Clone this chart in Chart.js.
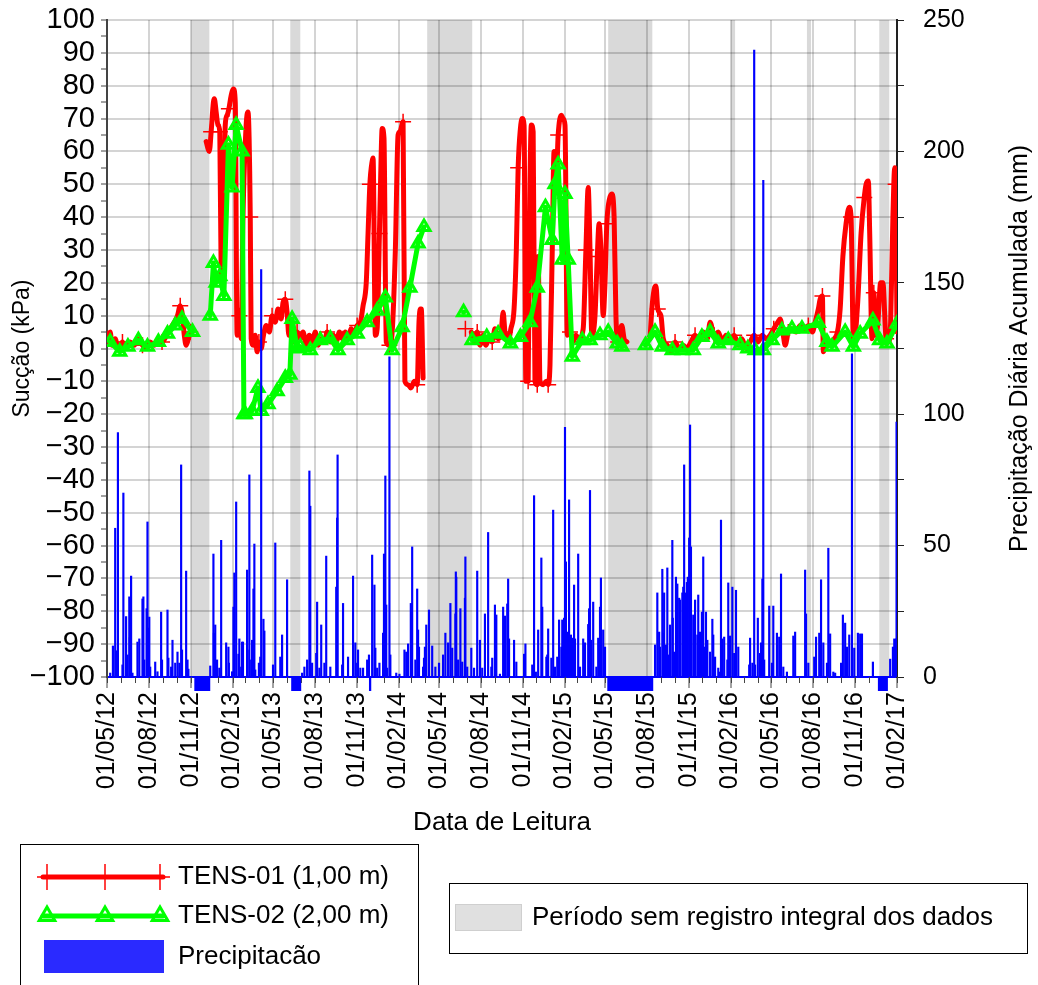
<!DOCTYPE html>
<html>
<head>
<meta charset="utf-8">
<script src="https://cdn.jsdelivr.net/npm/chart.js@4.4.1/dist/chart.umd.min.js"></script>
<style>
  html, body { margin: 0; padding: 0; background: #fff; }
  #wrap { width: 1038px; height: 985px; position: relative; }
</style>
</head>
<body>
<div id="wrap"><canvas id="grafico" width="1038" height="985"></canvas></div>
<script>
// ---------------------------------------------------------------
// Monitoramento de sucção (tensiômetros) e precipitação diária
// Datas no formato DD/MM/AA; null interrompe a linha da série
// ---------------------------------------------------------------

// TENS-01 (1,00 m) - sucção em kPa
const tens01 = [
  ['03/05/12',3],['08/05/12',5],['12/05/12',1],['19/05/12',3],['25/05/12',0],['04/06/12',2],['12/06/12',0],
  ['21/06/12',2],['30/06/12',1],['09/07/12',3],['18/07/12',1],['27/07/12',0],['04/08/12',2],['13/08/12',1],
  ['22/08/12',3],['30/08/12',2],['09/09/12',4],['17/09/12',6],['26/09/12',8],['03/10/12',10],['09/10/12',13],
  ['13/10/12',11],['18/10/12',4],['22/10/12',1],['27/10/12',3],['31/10/12',5],['05/11/12',6],
  null,
  ['05/12/12',63],['12/12/12',60],['16/12/12',66],['21/12/12',75],['23/12/12',76],['27/12/12',72],['31/12/12',68],
  ['04/01/13',66],['07/01/13',23],['11/01/13',20],['16/01/13',68],['20/01/13',71],['24/01/13',73],['29/01/13',77],
  ['03/02/13',79],['07/02/13',75],['11/02/13',4],['16/02/13',10],['20/02/13',3],['24/02/13',40],['03/03/13',68],
  ['07/03/13',72],['12/03/13',40],['14/03/13',3],['19/03/13',1],['23/03/13',4],['27/03/13',-1],['31/03/13',2],
  ['05/04/13',0],['10/04/13',4],['16/04/13',7],['23/04/13',5],['29/04/13',10],['06/05/13',8],['12/05/13',12],
  ['19/05/13',9],['23/05/13',14],['28/05/13',15],['01/06/13',11],['05/06/13',4],['10/06/13',6],['16/06/13',2],
  ['23/06/13',5],['30/06/13',3],['06/07/13',5],['13/07/13',1],['20/07/13',4],['26/07/13',2],['02/08/13',5],
  ['08/08/13',1],['15/08/13',3],['22/08/13',2],['28/08/13',5],['04/09/13',2],['11/09/13',4],['17/09/13',2],
  ['24/09/13',5],['30/09/13',3],['07/10/13',5],['13/10/13',3],['20/10/13',6],['27/10/13',4],['02/11/13',7],
  ['09/11/13',8],['15/11/13',13],['22/11/13',20],['26/11/13',35],['30/11/13',50],['05/12/13',57],['07/12/13',58],
  ['12/12/13',4],['16/12/13',6],['21/12/13',35],['25/12/13',60],['27/12/13',67],['31/12/13',64],['05/01/14',2],
  ['12/01/14',1],['18/01/14',5],['25/01/14',30],['31/01/14',65],['04/02/14',66],['11/02/14',69],['15/02/14',-10],
  ['22/02/14',-11],['28/02/14',-12],['08/03/14',-10],['14/03/14',-11],['18/03/14',8],['21/03/14',12],['23/03/14',12],
  ['27/03/14',-9],
  null, ['28/06/14',6], null,
  ['11/07/14',5],['17/07/14',2],['24/07/14',5],['30/07/14',1],['06/08/14',4],['12/08/14',1],['19/08/14',3],
  ['26/08/14',2],['01/09/14',6],['08/09/14',3],['14/09/14',4],['19/09/14',11],['23/09/14',5],['30/09/14',2],
  ['06/10/14',6],['13/10/14',12],['18/10/14',30],['22/10/14',55],['27/10/14',67],['31/10/14',70],['04/11/14',68],
  ['08/11/14',-10],['13/11/14',-10],['17/11/14',50],['20/11/14',68],['24/11/14',66],['28/11/14',-10],['03/12/14',-11],
  ['05/12/14',28],['09/12/14',-10],['16/12/14',-11],['23/12/14',-10],['27/12/14',-11],['31/12/14',-5],['05/01/15',30],
  ['09/01/15',60],['14/01/15',52],['18/01/15',65],['25/01/15',71],['29/01/15',70],['02/02/15',68],['07/02/15',4],
  ['13/02/15',5],['20/02/15',2],['26/02/15',4],['05/03/15',3],['14/03/15',6],['20/03/15',30],['25/03/15',49],
  ['29/03/15',30],['02/04/15',4],['09/04/15',10],['14/04/15',28],['18/04/15',38],['22/04/15',30],['27/04/15',10],
  ['01/05/15',20],['05/05/15',38],['10/05/15',45],['16/05/15',47],['21/05/15',40],['25/05/15',10],['30/05/15',2],
  ['03/06/15',5],['07/06/15',7],['12/06/15',3],['18/06/15',2],
  null,
  ['08/08/15',3],['12/08/15',12],['17/08/15',18],['21/08/15',19],['25/08/15',12],['01/09/15',10],['06/09/15',3],
  ['15/09/15',1],['24/09/15',-1],['02/10/15',2],['11/10/15',0],['20/10/15',1],['28/10/15',0],['06/11/15',2],
  ['15/11/15',4],['24/11/15',3],['03/12/15',5],['12/12/15',3],['18/12/15',8],['27/12/15',4],['05/01/16',5],
  ['14/01/16',2],['22/01/16',4],['31/01/16',2],['09/02/16',4],['18/02/16',1],['26/02/16',3],['06/03/16',0],
  ['15/03/16',2],['24/03/16',4],['01/04/16',2],['11/04/16',4],['19/04/16',3],['28/04/16',4],['06/05/16',6],
  ['15/05/16',8],['20/05/16',9],['27/05/16',4],['31/05/16',1],['07/06/16',5],['15/06/16',6],['24/06/16',5],
  ['03/07/16',7],['12/07/16',6],['21/07/16',7],['30/07/16',5],['05/08/16',8],['12/08/16',12],['16/08/16',15],
  ['21/08/16',16],['23/08/16',-1],['29/08/16',2],['07/09/16',1],['16/09/16',3],['23/09/16',5],['29/09/16',12],
  ['05/10/16',28],['12/10/16',38],['19/10/16',43],['23/10/16',40],['28/10/16',3],['01/11/16',4],['07/11/16',15],
  ['14/11/16',35],['21/11/16',46],['25/11/16',50],['30/11/16',51],['03/12/16',35],['08/12/16',3],['12/12/16',17],
  ['16/12/16',4],['21/12/16',8],['27/12/16',20],['01/01/17',20],['08/01/17',3],['14/01/17',2],['18/01/17',8],
  ['23/01/17',40],['27/01/17',55],['29/01/17',50],['01/02/17',5]
];

// TENS-02 (2,00 m) - sucção em kPa
const tens02 = [
  ['08/05/12',2],['29/05/12',-1],['16/06/12',0.5],['09/07/12',2.5],['29/07/12',0.5],['22/08/12',2],['11/09/12',4.5],
  ['28/09/12',7],['13/10/12',9],['05/11/12',5],
  null,
  ['14/12/12',10],['21/12/12',26],['27/12/12',20],['04/01/13',22],['13/01/13',16],['23/01/13',62],['31/01/13',49],
  ['09/02/13',68],['22/02/13',60],['26/02/13',-20],['01/03/13',-20],['16/03/13',-19],['29/03/13',-12],['05/04/13',-19],
  ['20/04/13',-17],['10/05/13',-13],['28/05/13',-9],['07/06/13',-8],['12/06/13',9],['23/06/13',0],['30/06/13',0.5],
  ['22/07/13',-0.5],['13/08/13',2.5],['04/09/13',3],['21/09/13',-0.5],['11/10/13',2.5],['02/11/13',4.5],['24/11/13',8],
  ['16/12/13',11.5],['03/01/14',15.5],['18/01/14',-0.5],['09/02/14',6.5],['26/02/14',18.5],['16/03/14',32],['29/03/14',37],
  null, ['24/06/14',11], null,
  ['13/07/14',2.5],['14/08/14',3.5],['08/09/14',4.5],['05/10/14',1.5],['27/10/14',3.5],['17/11/14',8],['03/12/14',18.5],
  ['21/12/14',43],['05/01/15',33],['11/01/15',50],['18/01/15',56],['27/01/15',27],['02/02/15',47],['09/02/15',27],
  ['18/02/15',-2.5],['12/03/15',2.5],['29/03/15',2.5],['20/04/15',4],['08/05/15',5],['28/05/15',1.5],['07/06/15',0.5],
  null,
  ['29/07/15',1],['19/08/15',5],['04/09/15',0.5],['26/09/15',-0.5],['18/10/15',-0.5],['11/11/15',-0.5],['30/11/15',3.5],
  ['18/12/15',5],['05/01/16',1.5],['27/01/16',2.5],['22/02/16',1],['10/03/16',0],['26/03/16',-0.5],['13/04/16',-0.5],
  ['02/05/16',2.5],['24/05/16',5.5],['15/06/16',6],['07/07/16',6],['12/08/16',7.8],['31/08/16',2],['11/09/16',0.5],
  ['10/10/16',5],['28/10/16',0.5],['12/11/16',4.5],['10/12/16',8.5],['25/12/16',2.5],['10/01/17',1.5],['01/02/17',7.5]
];

// Precipitação diária acumulada (mm)
const precipitacao = [
  ['08/05/12',1.5],['14/05/12',11.8],['19/05/12',56.6],['23/05/12',10],['25/05/12',93],['04/06/12',4.6],['06/06/12',70],
  ['12/06/12',23],['15/06/12',8.4],['19/06/12',30.5],['20/06/12',15],['23/06/12',38.4],['26/06/12',1.5],['07/07/12',13.3],
  ['11/07/12',14.5],['18/07/12',29.7],['20/07/12',30.5],['22/07/12',6.5],['27/07/12',26],['29/07/12',59],['31/07/12',18.6],
  ['02/08/12',22.8],['04/08/12',3.8],['15/08/12',5.7],['20/08/12',2],['28/08/12',24.7],['30/08/12',6.5],['11/09/12',25.5],
  ['13/09/12',7.2],['19/09/12',3.8],['22/09/12',14],['28/09/12',5.3],['03/10/12',9.5],['07/10/12',5.3],['11/10/12',80.7],
  ['13/10/12',10.3],['22/10/12',40.3],['25/10/12',6.5],['27/10/12',3],
  ['14/12/12',4.2],['21/12/12',46.8],['22/12/12',16.7],['25/12/12',19.8],['29/12/12',6.5],['03/01/13',3.4],['07/01/13',52],
  ['18/01/13',13],['23/01/13',11.4],['24/01/13',5.3],['31/01/13',2],['03/02/13',26.6],['05/02/13',39.6],['09/02/13',66.6],
  ['14/02/13',8.7],['16/02/13',14.5],['20/02/13',3.8],['22/02/13',13.3],['24/02/13',13.3],['05/03/13',40.7],['06/03/13',10.3],
  ['10/03/13',76.9],['14/03/13',6.5],['16/03/13',14],['19/03/13',33.5],['21/03/13',50.6],['23/03/13',2.7],['31/03/13',5.3],
  ['03/04/13',7.6],['05/04/13',155],['10/04/13',22],['12/04/13',17.5],['01/05/13',4.6],['06/05/13',51],['17/05/13',7.6],
  ['21/05/13',16],['01/06/13',37],
  ['04/07/13',1.5],['09/07/13',3.8],['15/07/13',6.5],['20/07/13',78.4],['22/07/13',65],['26/07/13',5.3],['04/08/13',9],
  ['06/08/13',28.5],['11/08/13',3.4],['15/08/13',19.8],['22/08/13',5.3],['26/08/13',46],['04/09/13',3.8],['17/09/13',34.2],
  ['19/09/13',60.5],['20/09/13',84.5],['30/09/13',4.6],['02/10/13',28],['13/10/13',7.6],['24/10/13',38.4],['29/10/13',13],
  ['02/11/13',5.3],['04/11/13',10.3],['09/11/13',3.4],['15/11/13',3.4],['24/11/13',6.5],['28/11/13',8.4],['05/12/13',46.4],
  ['10/12/13',35],['12/12/13',11],['16/12/13',3.4],['21/12/13',5.3],['29/12/13',16.7],['31/12/13',46.8],['03/01/14',76.5],
  ['05/01/14',27.4],['07/01/14',3.4],['12/01/14',121.8],['14/01/14',8.4],['27/01/14',1.5],['03/02/14',1.1],['14/02/14',10.3],
  ['18/02/14',9.5],['22/02/14',12.6],['28/02/14',28],['03/03/14',49.5],['10/03/14',6.5],['14/03/14',33.5],['16/03/14',17.9],
  ['18/03/14',11.4],['27/03/14',3.8],['29/03/14',7.2],['31/03/14',11.4],['03/04/14',19.8],['09/04/14',25.5],['16/04/14',11.8],
  ['23/04/14',3.8],['01/05/14',5.3],['10/05/14',8.4],['15/05/14',16.7],['21/05/14',13],['26/05/14',28],['30/05/14',11],
  ['06/06/14',24],['07/06/14',40],['08/06/14',38],['12/06/14',6.5],['17/06/14',26],['21/06/14',5.7],['27/06/14',30],
  ['28/06/14',45.7],['02/07/14',3.8],['11/07/14',11],['17/07/14',3.4],['24/07/14',40.3],['30/07/14',14],['04/08/14',3.4],
  ['10/08/14',24],['17/08/14',55],['24/08/14',3.8],['26/08/14',7.2],['01/09/14',27.4],['04/09/14',23.6],['12/09/14',1.1],
  ['19/09/14',26.6],['23/09/14',23.2],['28/09/14',27.8],['30/09/14',37.3],['02/10/14',14.5],['13/10/14',14],['18/10/14',5.7],
  ['04/11/14',8.7],['07/11/14',12.6],['22/11/14',4.6],['26/11/14',69],['30/11/14',1.9],['05/12/14',17.9],['12/12/14',45.3],
  ['14/12/14',26.6],['23/12/14',7.6],['25/12/14',8.4],['27/12/14',18.3],['03/01/15',7.2],['07/01/15',63.5],['11/01/15',3.8],
  ['16/01/15',7.6],['20/01/15',21.7],['25/01/15',11.4],['27/01/15',21.7],['31/01/15',22.4],['02/02/15',95],['04/02/15',43.8],
  ['07/02/15',17.1],['11/02/15',67.4],['15/02/15',16],['18/02/15',14.8],['22/02/15',35],['24/02/15',14.5],['03/03/15',46.8],
  ['07/03/15',3.8],['14/03/15',14.5],['18/03/15',13],['25/03/15',20],['27/03/15',26],['29/03/15',71],['31/03/15',14],
  ['05/04/15',28.5],['12/04/15',3.8],['16/04/15',14.8],['20/04/15',26.6],['22/04/15',37.7],['27/04/15',17.9],['01/05/15',11.4],
  ['19/08/15',12.2],['24/08/15',32],['28/08/15',17.1],['30/08/15',11.4],['04/09/15',41],['06/09/15',16.7],['08/09/15',32],
  ['12/09/15',12.2],['15/09/15',41.5],['17/09/15',8.4],['21/09/15',19.8],['26/09/15',52],['27/09/15',22.4],['30/09/15',9.5],
  ['04/10/15',38],['07/10/15',35.4],['11/10/15',30],['13/10/15',29.3],['18/10/15',32],['20/10/15',34.2],['22/10/15',80.7],
  ['26/10/15',32],['28/10/15',36],['30/10/15',38],['02/11/15',52.9],['04/11/15',95.9],['06/11/15',49.5],['11/11/15',23.6],
  ['13/11/15',21],['15/11/15',29.3],['20/11/15',16],['22/11/15',31.2],['26/11/15',17.1],['30/11/15',24.7],['03/12/15',45.7],
  ['05/12/15',11.4],['09/12/15',24.7],['12/12/15',14],['18/12/15',9.5],['23/12/15',22],['25/12/15',16],['29/12/15',7.6],
  ['05/01/16',3.4],['09/01/16',1.9],['11/01/16',59.7],['14/01/16',14.5],['18/01/16',15.2],['25/01/16',6.5],['27/01/16',35.8],
  ['31/01/16',15.6],['05/02/16',34.2],['09/02/16',9],['13/02/16',33],['18/02/16',11.4],['13/03/16',4.6],['15/03/16',14.8],
  ['20/03/16',5.3],['24/03/16',238.6],['26/03/16',4.6],['01/04/16',22.4],['06/04/16',9],['08/04/16',13],['11/04/16',37.3],
  ['13/04/16',189],['15/04/16',6.5],['26/04/16',27],['02/05/16',5.3],['05/05/16',27],['13/05/16',16.7],['18/05/16',15.2],
  ['22/05/16',39.2],['27/05/16',3.8],['04/06/16',1.9],['18/06/16',15.6],['22/06/16',17.1],['14/07/16',40.7],['16/07/16',24],
  ['21/07/16',5.3],['03/08/16',7.6],['07/08/16',15.2],['14/08/16',16.7],['18/08/16',37],['23/08/16',13],['31/08/16',5.3],
  ['03/09/16',49],['07/09/16',16.4],['14/09/16',1.9],['18/09/16',1.5],['01/10/16',5.3],['05/10/16',23.6],['10/10/16',20.5],
  ['14/10/16',11.4],['19/10/16',16],['25/10/16',123],['30/10/16',11],['07/11/16',16.7],['12/11/16',16.4],['16/11/16',16.4],
  ['10/12/16',5.7],['17/01/17',6.8],['23/01/17',11.4],['26/01/17',14.5],['30/01/17',14.5],['31/01/17',97]
];

// Períodos sem registro integral dos dados (início, fim)
const periodosSemRegistro = [
  ['02/11/12','12/12/12'], ['08/06/13','30/06/13'], ['05/04/14','13/07/14'], ['08/05/15','13/08/15'],
  ['02/02/16','11/02/16'], ['18/07/16','27/07/16'], ['24/12/16','15/01/17']
];

// Falhas do registro de precipitação (início, fim)
const falhasPrecipitacao = [
  ['09/11/12','14/12/12'], ['10/06/13','02/07/13'], ['28/11/13','03/12/13'], ['06/05/15','15/08/15'], ['21/12/16','12/01/17']
];

// Rótulos do eixo das datas (trimestrais)
const rotulosDatas = [
  '01/05/12','01/08/12','01/11/12','01/02/13','01/05/13','01/08/13','01/11/13','01/02/14','01/05/14','01/08/14',
  '01/11/14','01/02/15','01/05/15','01/08/15','01/11/15','01/02/16','01/05/16','01/08/16','01/11/16','01/02/17'
];

// Eixos
const rotulosSuccao = { min: -100, max: 100, passo: 5, rotulo: 10 };
const rotulosPrecip = { min: 0, max: 250, passo: 25, rotulo: 50 };

// ---------------------------------------------------------------
const FONTE = '"Liberation Sans", Arial, Helvetica, sans-serif';
const ORIGEM = Date.UTC(2012, 4, 1);

// dias decorridos desde 01/05/2012
function dia(s) {
  const [d, m, a] = s.split('/').map(Number);
  return (Date.UTC(2000 + a, m - 1, d) - ORIGEM) / 864e5;
}
function rotuloDe(v) {
  const t = new Date(ORIGEM + Math.round(v) * 864e5);
  const p = n => String(n).padStart(2, '0');
  return p(t.getUTCDate()) + '/' + p(t.getUTCMonth() + 1) + '/' + p(t.getUTCFullYear() % 100);
}
function pontos(serie) {
  const out = [];
  let ultimo = 0;
  for (const p of serie) {
    if (p === null) { out.push({ x: ultimo + 0.5, y: null }); continue; }
    ultimo = dia(p[0]);
    out.push({ x: ultimo, y: p[1] });
  }
  return out;
}
const X_MIN = dia(rotulosDatas[0]);
const X_MAX = dia(rotulosDatas[rotulosDatas.length - 1]);

const dadosTens01 = pontos(tens01);
const dadosTens02 = pontos(tens02);
const dadosPrecip = precipitacao.map(p => ({ x: dia(p[0]), y: p[1] }));

// mostra o marcador "+" a cada 5 leituras e nos pontos isolados
function marcadorTens01(ctx) {
  const i = ctx.dataIndex, d = dadosTens01;
  if (!d[i] || d[i].y === null) return 0;
  const isolado = (!d[i - 1] || d[i - 1].y === null) && (!d[i + 1] || d[i + 1].y === null);
  return (isolado || i % 5 === 0) ? 8 : 0;
}

// Faixas cinza dos períodos sem registro
const faixasPlugin = {
  id: 'faixas',
  beforeDraw(chart) {
    const { ctx, chartArea: a, scales: { x } } = chart;
    ctx.save();
    ctx.fillStyle = '#d9d9d9';
    for (const [i, f] of periodosSemRegistro) {
      const x0 = x.getPixelForValue(dia(i)), x1 = x.getPixelForValue(dia(f));
      ctx.fillRect(x0, a.top, x1 - x0, a.bottom - a.top);
    }
    ctx.restore();
  }
};

// Traços mensais, falhas da precipitação, título do eixo direito e legendas
const extrasPlugin = {
  id: 'extras',
  afterDraw(chart) {
    const { ctx, chartArea: a, scales: { x } } = chart;
    ctx.save();
    // traços mensais secundários
    ctx.strokeStyle = '#444';
    ctx.lineWidth = 1;
    for (let m = 0; ; m++) {
      const t = Date.UTC(2012, 4 + m, 1);
      const v = (t - ORIGEM) / 864e5;
      if (v > X_MAX) break;
      const px = Math.round(x.getPixelForValue(v)) + 0.5;
      ctx.beginPath(); ctx.moveTo(px, a.bottom); ctx.lineTo(px, a.bottom + 6); ctx.stroke();
    }
    // falhas do pluviômetro (abaixo do eixo)
    ctx.fillStyle = '#0000ff';
    for (const [i, f] of falhasPrecipitacao) {
      const x0 = x.getPixelForValue(dia(i)), x1 = x.getPixelForValue(dia(f));
      ctx.fillRect(x0, a.bottom, Math.max(2, x1 - x0), 14);
    }
    // título do eixo direito, centrado na altura do eixo
    ctx.fillStyle = '#000';
    ctx.font = '25px ' + FONTE;
    ctx.textBaseline = 'middle';
    ctx.textAlign = 'center';
    ctx.translate(1020, (a.top + a.bottom) / 2);
    ctx.rotate(-Math.PI / 2);
    ctx.fillText('Precipitação Diária Acumulada (mm)', 0, 0);
    ctx.restore();

    desenhaLegendas(ctx);
  }
};

function triangulo(ctx, cx, cy, r) {
  ctx.beginPath();
  ctx.moveTo(cx, cy - r);
  ctx.lineTo(cx + r * 0.866, cy + r * 0.5);
  ctx.lineTo(cx - r * 0.866, cy + r * 0.5);
  ctx.closePath();
  ctx.stroke();
}
function linha(ctx, x0, y0, x1, y1) {
  ctx.beginPath(); ctx.moveTo(x0, y0); ctx.lineTo(x1, y1); ctx.stroke();
}

function desenhaLegendas(ctx) {
  ctx.save();
  ctx.strokeStyle = '#000';
  ctx.lineWidth = 1;
  ctx.strokeRect(20.5, 844.5, 398, 160);
  ctx.strokeRect(449.5, 883.5, 578, 70);

  ctx.lineCap = 'round';
  // TENS-01
  ctx.strokeStyle = '#ff0000';
  ctx.lineWidth = 5;
  linha(ctx, 43, 877, 163, 877);
  ctx.lineWidth = 1.5;
  ctx.lineCap = 'butt';
  for (const cx of [47, 105, 160]) {
    linha(ctx, cx, 864, cx, 890);
    linha(ctx, cx - 10, 877, cx + 10, 877);
  }
  // TENS-02
  ctx.strokeStyle = '#00ff00';
  ctx.lineWidth = 5;
  ctx.lineCap = 'round';
  linha(ctx, 43, 916, 163, 916);
  ctx.lineWidth = 3;
  for (const cx of [47, 105, 160]) triangulo(ctx, cx, 916, 9);
  // Precipitação
  ctx.fillStyle = '#2a2aff';
  ctx.fillRect(44, 940, 120, 33);
  // Período sem registro
  ctx.fillStyle = '#e0e0e0';
  ctx.fillRect(455, 904, 67, 27);
  ctx.strokeStyle = '#cfcfcf';
  ctx.lineWidth = 1;
  ctx.strokeRect(455.5, 904.5, 66, 26);

  ctx.fillStyle = '#000';
  ctx.font = '26px ' + FONTE;
  ctx.textBaseline = 'middle';
  ctx.textAlign = 'left';
  ctx.fillText('TENS-01 (1,00 m)', 178, 877);
  ctx.fillText('TENS-02 (2,00 m)', 178, 916);
  ctx.fillText('Precipitacão', 178, 957);
  ctx.fillText('Período sem registro integral dos dados', 532, 918);
  ctx.restore();
}

// largura fixa dos eixos e sem folga extra acima/abaixo dos rótulos
function larguraFixa(w) {
  return s => { s.width = w; s.paddingTop = 0; s.paddingBottom = 0; };
}

Chart.defaults.font.family = FONTE;
Chart.defaults.color = '#000';

new Chart(document.getElementById('grafico'), {
  data: {
    datasets: [
      {
        type: 'bar',
        label: 'Precipitacão',
        data: dadosPrecip,
        xAxisID: 'x',
        yAxisID: 'y2',
        backgroundColor: '#0000ff',
        borderWidth: 0,
        barThickness: 1.5,
        order: 0
      },
      {
        type: 'line',
        label: 'TENS-02 (2,00 m)',
        data: dadosTens02,
        xAxisID: 'x',
        yAxisID: 'y',
        borderColor: '#00ff00',
        borderWidth: 5,
        borderJoinStyle: 'round',
        borderCapStyle: 'round',
        tension: 0,
        spanGaps: false,
        pointStyle: 'triangle',
        pointRadius: 7,
        pointBorderWidth: 3,
        pointBorderColor: '#00ff00',
        pointBackgroundColor: 'rgba(255,255,255,0)',
        order: 1
      },
      {
        type: 'line',
        label: 'TENS-01 (1,00 m)',
        data: dadosTens01,
        xAxisID: 'x',
        yAxisID: 'y',
        borderColor: '#ff0000',
        borderWidth: 5,
        borderJoinStyle: 'round',
        borderCapStyle: 'round',
        cubicInterpolationMode: 'monotone',
        spanGaps: false,
        pointStyle: 'cross',
        pointRadius: marcadorTens01,
        pointBorderWidth: 1.5,
        pointBorderColor: '#ff0000',
        order: 2
      }
    ]
  },
  options: {
    responsive: false,
    animation: false,
    devicePixelRatio: 1,
    layout: { padding: { top: 20, bottom: 147, left: 0, right: 0 } },
    plugins: { legend: { display: false }, tooltip: { enabled: false } },
    scales: {
      x: {
        type: 'linear',
        position: 'bottom',
        offset: false,
        min: X_MIN,
        max: X_MAX,
        afterBuildTicks: s => { s.ticks = rotulosDatas.map(r => ({ value: dia(r) })); },
        afterFit: s => { s.height = 161; s.paddingLeft = 0; s.paddingRight = 0; },
        ticks: {
          autoSkip: false,
          minRotation: 90,
          maxRotation: 90,
          padding: 4,
          font: { size: 25 },
          callback: v => rotuloDe(v)
        },
        grid: { offset: false, color: 'rgba(0,0,0,0.17)', lineWidth: 2, tickColor: '#444', tickLength: 11, tickWidth: 1 },
        border: { color: '#0000ff', width: 2 },
        title: { display: true, text: 'Data de Leitura', font: { size: 26 }, padding: { top: 0, bottom: 0 } }
      },
      y: {
        type: 'linear',
        position: 'left',
        min: rotulosSuccao.min,
        max: rotulosSuccao.max,
        afterFit: larguraFixa(107),
        ticks: {
          stepSize: rotulosSuccao.passo,
          autoSkip: false,
          padding: 6,
          font: { size: 29 },
          callback: v => (v % rotulosSuccao.rotulo === 0 ? String(v).replace('-', '\u2212') : '')
        },
        grid: {
          color: c => (c.tick && c.tick.value % rotulosSuccao.rotulo === 0) ? 'rgba(0,0,0,0.17)' : 'rgba(0,0,0,0)',
          lineWidth: 2,
          tickColor: '#444',
          tickLength: 6,
          tickWidth: 1
        },
        border: { color: '#444', width: 2 },
        title: { display: true, text: 'Sucção (kPa)', font: { size: 23 }, padding: { top: 9, bottom: 0 } }
      },
      y2: {
        type: 'linear',
        position: 'right',
        min: rotulosPrecip.min,
        max: rotulosPrecip.max,
        afterFit: larguraFixa(141),
        ticks: {
          stepSize: rotulosPrecip.passo,
          autoSkip: false,
          padding: 19,
          font: { size: 25 },
          callback: v => (v % rotulosPrecip.rotulo === 0 ? v : '')
        },
        grid: { drawOnChartArea: false, tickColor: '#222', tickLength: 7, tickWidth: 1 },
        border: { color: '#222', width: 2 }
      }
    }
  },
  plugins: [faixasPlugin, extrasPlugin]
});
</script>
</body>
</html>
